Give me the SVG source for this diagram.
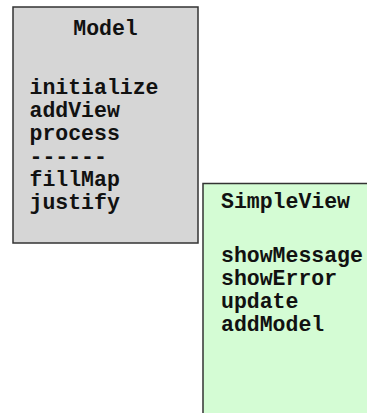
<svg xmlns="http://www.w3.org/2000/svg" width="367" height="413" viewBox="0 0 367 413">
<style>
.box{stroke:#333;stroke-width:1.5}
.t{font-family:"Liberation Mono","Courier New",monospace;font-weight:bold;font-size:21.5px;fill:#111}
</style>
<rect width="367" height="413" fill="#fff"/>
<g id="model">
<rect class="box" x="13" y="7" width="185" height="236" fill="#d6d6d6"/>
<text class="t" x="105.5" y="35" text-anchor="middle">Model</text>
<text class="t" x="29.5" y="94">initialize</text>
<text class="t" x="29.5" y="117">addView</text>
<text class="t" x="29.5" y="140">process</text>
<text class="t" x="29.5" y="163">------</text>
<text class="t" x="29.5" y="186">fillMap</text>
<text class="t" x="29.5" y="209">justify</text>
</g>
<g id="simpleview">
<rect class="box" x="203" y="183.5" width="175" height="240" fill="#d4fcd4"/>
<text class="t" x="221" y="208">SimpleView</text>
<text class="t" x="221" y="262">showMessage</text>
<text class="t" x="221" y="285">showError</text>
<text class="t" x="221" y="308">update</text>
<text class="t" x="221" y="331">addModel</text>
</g>
<g id="connectors"/>
</svg>
